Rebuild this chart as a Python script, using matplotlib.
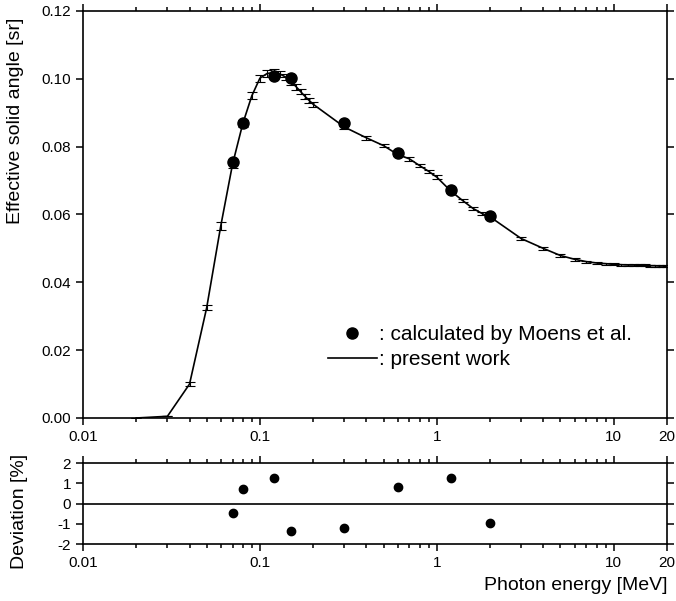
import matplotlib
matplotlib.use("Agg")
import matplotlib.pyplot as plt
from matplotlib.ticker import FixedLocator, NullFormatter
from matplotlib.lines import Line2D

plt.rcParams['font.family'] = ['Liberation Sans', 'DejaVu Sans']
plt.rcParams['axes.unicode_minus'] = False

# present work (energy in MeV, effective solid angle in sr)
energia = [0.02, 0.03, 0.04, 0.05, 0.06, 0.07, 0.08, 0.09, 0.1, 0.11, 0.12, 0.13,
           0.14, 0.15, 0.16, 0.17, 0.18, 0.19, 0.2, 0.3, 0.4, 0.5, 0.6, 0.7, 0.8,
           0.9, 1.0, 1.2, 1.4, 1.6, 1.8, 2.0, 3, 4, 5, 6, 7, 8, 9, 10, 11, 12, 13,
           14, 15, 16, 17, 18, 19, 20]
angulo = [0.0, 0.0005, 0.0100, 0.0325, 0.0565, 0.0748, 0.0868, 0.0950, 0.1002,
          0.1016, 0.1018, 0.1014, 0.1005, 0.0992, 0.0977, 0.0962, 0.0948, 0.0936,
          0.0925, 0.0858, 0.0826, 0.0803, 0.0777, 0.0764, 0.0744, 0.0727, 0.0710,
          0.0669, 0.0641, 0.0618, 0.0603, 0.0593, 0.0529, 0.0500, 0.0479, 0.0468,
          0.0461, 0.0457, 0.0455, 0.0453, 0.0452, 0.0451, 0.0451, 0.0450, 0.0450,
          0.0449, 0.0449, 0.0448, 0.0448, 0.0447]
error = [0.0, 0.0, 0.0006, 0.0008, 0.0012, 0.0012, 0.0010, 0.0010, 0.0010,
         0.0010, 0.0010, 0.0010, 0.0009, 0.0009, 0.0009, 0.0008, 0.0008, 0.0008,
         0.0008, 0.0005, 0.0005, 0.0005, 0.0005, 0.0005, 0.0005, 0.0005, 0.0005,
         0.0005, 0.0005, 0.0005, 0.0005, 0.0005, 0.0004, 0.0004, 0.0004, 0.0004,
         0.0003, 0.0003, 0.0003, 0.0003, 0.0003, 0.0003, 0.0003, 0.0003, 0.0003,
         0.0003, 0.0003, 0.0003, 0.0003, 0.0003]

# calculated by Moens et al.
energia_moens = [0.07, 0.08, 0.12, 0.15, 0.3, 0.6, 1.2, 2.0]
angulo_moens = [0.0755, 0.0870, 0.1007, 0.1002, 0.0869, 0.0782, 0.0673, 0.0596]
desviacion = [-0.46, 0.74, 1.25, -1.38, -1.22, 0.81, 1.27, -0.97]

ticks_x = [0.01, 0.1, 1, 10, 20]
etiquetas_x = ["0.01", "0.1", "1", "10", "20"]
menores_x = [m * d for d in [0.01, 0.1, 1] for m in range(2, 10)]


def formato_eje(ax):
    ax.set_xscale('log')
    ax.set_xlim(0.01, 20)
    ax.xaxis.set_major_locator(FixedLocator(ticks_x))
    ax.set_xticklabels(etiquetas_x)
    ax.xaxis.set_minor_locator(FixedLocator(menores_x))
    ax.xaxis.set_minor_formatter(NullFormatter())
    ax.tick_params(which='both', direction='out', top=True, right=True,
                   labelsize=11, width=1.1)
    ax.tick_params(which='major', length=5)
    ax.tick_params(which='minor', length=3)
    for s in ax.spines.values():
        s.set_linewidth(1.2)


fig = plt.figure(figsize=(6.76, 6.01), dpi=100)
ax1 = fig.add_axes([0.1228, 0.3045, 0.8639, 0.6772])
ax2 = fig.add_axes([0.1228, 0.0948, 0.8639, 0.1348])

# Panel superior
ax1.errorbar(energia, angulo, yerr=error, color='black', lw=1.2, elinewidth=0.8,
             capsize=3.5, capthick=0.8, zorder=2)
ax1.plot(energia_moens, angulo_moens, 'o', color='black', markersize=8, zorder=3)
formato_eje(ax1)
ax1.set_ylim(0, 0.12)
ax1.set_yticks([0.0, 0.02, 0.04, 0.06, 0.08, 0.10, 0.12])
ax1.set_yticklabels(["0.00", "0.02", "0.04", "0.06", "0.08", "0.10", "0.12"])
ax1.set_ylabel('Effective solid angle [sr]', fontsize=14)
ax1.yaxis.set_label_coords(-0.101, 0.73)

handles = [Line2D([], [], marker='o', color='black', ls='none', markersize=8),
           Line2D([], [], color='black', lw=1.2)]
ax1.legend(handles, [': calculated by Moens et al.', ': present work'],
           loc='upper left', bbox_to_anchor=(0.4195, 0.228), frameon=False,
           fontsize=15, handlelength=2.35, handletextpad=0.1, borderpad=0,
           borderaxespad=0, labelspacing=0.27)

# Panel inferior
ax2.plot(energia_moens, desviacion, 'o', color='black', markersize=6)
ax2.axhline(0, color='black', lw=1.2)
formato_eje(ax2)
ax2.set_ylim(-2, 2)
ax2.set_yticks([-2, -1, 0, 1, 2])
ax2.set_ylabel('Deviation [%]', fontsize=14)
ax2.yaxis.set_label_coords(-0.094, 0.40)
ax2.set_xlabel('Photon energy [MeV]', fontsize=14, loc='right', labelpad=5)

fig.savefig('out.png', dpi=100)
